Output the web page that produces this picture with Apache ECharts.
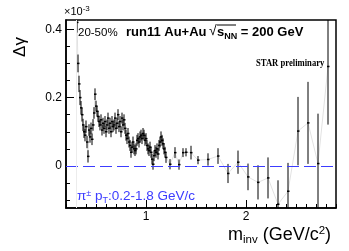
<!DOCTYPE html>
<html><head><meta charset="utf-8">
<script src="https://cdn.jsdelivr.net/npm/echarts@6/dist/echarts.min.js"></script>
<style>html,body{margin:0;padding:0;background:#fff}#c{width:349px;height:251px}</style>
</head><body><div id="c"></div>
<script>
// x positions (GeV/c^2)
const massX = [
 0.31,0.32,0.33,0.34,0.35,0.36,0.37,0.38,0.39,0.40,
 0.41,0.42,0.43,0.44,0.45,0.46,0.47,0.48,0.49,0.50,
 0.51,0.52,0.53,0.54,0.55,0.56,0.57,0.58,0.59,0.60,
 0.61,0.62,0.63,0.64,0.65,0.66,0.67,0.68,0.69,0.70,
 0.71,0.72,0.73,0.74,0.75,0.76,0.77,0.78,0.79,0.80,
 0.81,0.82,0.83,0.84,0.85,0.86,0.87,0.88,0.89,0.90,
 0.91,0.92,0.93,0.94,0.95,0.96,0.97,0.98,0.99,1.00,
 1.01,1.02,1.03,1.04,1.05,1.06,1.07,1.08,1.09,1.10,
 1.11,1.12,1.13,1.14,1.15,1.16,1.17,1.18,1.19,1.20,
 1.24,1.29,1.33,1.37,1.40,1.45,
 1.52,1.62,1.72,1.82,1.92,2.02,2.12,2.22,2.32,2.42,2.52,2.62,2.72,2.82
];
// delta gamma (x 10^-3)
const deltaGamma = [
 0.42,0.30,0.24,0.20,0.17,0.15,0.12,0.10,0.09,0.115,
 0.07,0.028,0.105,0.085,0.11,0.078,0.12,0.155,0.21,0.175,
 0.16,0.145,0.13,0.12,0.135,0.105,0.125,0.11,0.13,0.10,
 0.12,0.14,0.11,0.125,0.10,0.13,0.115,0.12,0.14,0.11,
 0.125,0.15,0.115,0.13,0.10,0.14,0.12,0.135,0.11,0.09,
 0.08,0.095,0.07,0.06,0.04,0.055,0.07,0.05,0.045,0.05,
 0.075,0.08,0.07,0.085,0.09,0.08,0.095,0.09,0.075,0.08,
 0.06,0.05,0.045,0.055,0.04,0.02,0.005,0.03,0.045,0.04,
 0.05,0.035,0.06,0.07,0.085,0.075,0.065,0.05,0.04,0.025,
 0.005,0.039,0.004,0.039,0.040,0.039,
 0.017,0.019,0.029,-0.022,0.011,-0.032,-0.048,-0.035,-0.112,-0.074,0.102,0.126,0.007,0.291
];
// statistical errors
const deltaGammaErr = [
 0.03,0.026,0.024,0.022,0.02,0.02,0.018,0.018,0.018,0.018,
 0.018,0.018,0.017,0.017,0.017,0.017,0.017,0.017,0.017,0.016,
 0.016,0.016,0.016,0.016,0.016,0.016,0.016,0.016,0.016,0.016,
 0.016,0.016,0.016,0.016,0.016,0.016,0.016,0.016,0.016,0.016,
 0.016,0.016,0.016,0.016,0.016,0.016,0.016,0.016,0.016,0.016,
 0.016,0.016,0.016,0.016,0.016,0.016,0.016,0.016,0.016,0.016,
 0.016,0.016,0.016,0.016,0.016,0.016,0.016,0.016,0.016,0.016,
 0.016,0.016,0.016,0.016,0.016,0.016,0.016,0.016,0.016,0.016,
 0.016,0.016,0.016,0.016,0.016,0.016,0.016,0.016,0.016,0.016,
 0.015,0.016,0.015,0.013,0.012,0.02,
 0.012,0.018,0.023,0.028,0.034,0.039,0.05,0.06,0.07,0.083,0.1,0.12,0.146,0.17
];
const yTickValues = [0, 0.2, 0.4];
const yTickLabels = ['0', '0.2', '0.4'];
const xTickValues = [1, 2];
const xTickLabels = ['1', '2'];

const X_MIN = 0.2, X_MAX = 2.9, Y_MIN = -0.123, Y_MAX = 0.427;
const yMinor = []; for (let i = -2; i <= 8; i++) yMinor.push(+(i * 0.05).toFixed(2));
const xMinor = []; for (let i = 2; i <= 29; i++) xMinor.push(+(i * 0.1).toFixed(1));

const pts = massX.map((x, i) => [x, deltaGamma[i], deltaGammaErr[i]]);
const BLUE = '#3c3cff';
const FONT = '"Liberation Sans", Arial, Helvetica, sans-serif';

const chart = echarts.init(document.getElementById('c'), null, {renderer: 'canvas'});
const grid = {left: 66, right: 13, top: 20, bottom: 43, show: true, borderColor: '#000', borderWidth: 1.5, backgroundColor: 'transparent'};
chart.setOption({
  animation: false,
  grid: grid,
  xAxis: [{
    type: 'value', min: X_MIN, max: X_MAX, position: 'bottom',
    axisLine: {show: true, onZero: false, lineStyle: {color: '#000', width: 1.5}},
    axisTick: {show: true, inside: true, length: 8, customValues: xTickValues, lineStyle: {color: '#000'}},
    axisLabel: {show: true, customValues: xTickValues, formatter: v => xTickLabels[xTickValues.indexOf(v)] ?? '', color: '#000', fontSize: 12, fontFamily: FONT, margin: 3},
    splitLine: {show: false}
  }, {
    type: 'value', min: X_MIN, max: X_MAX, position: 'bottom',
    axisLine: {show: false, onZero: false},
    axisTick: {show: true, inside: true, length: 4, customValues: xMinor, lineStyle: {color: '#000'}},
    axisLabel: {show: false}, splitLine: {show: false}
  }],
  yAxis: [{
    type: 'value', min: Y_MIN, max: Y_MAX, position: 'left',
    axisLine: {show: true, onZero: false, lineStyle: {color: '#000', width: 1.5}},
    axisTick: {show: true, inside: true, length: 8, customValues: yTickValues, lineStyle: {color: '#000'}},
    axisLabel: {show: true, customValues: yTickValues, formatter: v => yTickLabels[yTickValues.indexOf(v)] ?? '', color: '#000', fontSize: 12, fontFamily: FONT, margin: 4},
    splitLine: {show: false}
  }, {
    type: 'value', min: Y_MIN, max: Y_MAX, position: 'left',
    axisLine: {show: false, onZero: false},
    axisTick: {show: true, inside: true, length: 4, customValues: yMinor, lineStyle: {color: '#000'}},
    axisLabel: {show: false}, splitLine: {show: false}
  }],
  series: [{
    type: 'line', data: pts.map(p => [p[0], p[1]]), symbol: 'none',
    lineStyle: {color: '#e2e2e2', width: 1}, z: 1, silent: true, clip: true,
    markLine: {
      silent: true, symbol: 'none', label: {show: false},
      lineStyle: {color: BLUE, type: [12, 5], width: 1},
      data: [{yAxis: 0}]
    }
  }, {
    type: 'line', data: [], symbol: 'none', silent: true, z: 0,
    markLine: {
      silent: true, symbol: 'none', label: {show: false},
      lineStyle: {color: '#ececec', type: 'solid', width: 1},
      data: [{xAxis: 0.298}]
    }
  }, {
    type: 'custom', data: pts, z: 3, clip: true,
    renderItem: function (params, api) {
      const x = api.value(0), y = api.value(1), e = api.value(2);
      const hi = Math.min(y + e, Y_MAX), lo = Math.max(y - e, Y_MIN);
      const p1 = api.coord([x, hi]), p2 = api.coord([x, lo]), p = api.coord([x, Math.max(Math.min(y, Y_MAX), Y_MIN)]);
      return {type: 'group', children: [
        {type: 'line', shape: {x1: p1[0], y1: p1[1], x2: p2[0], y2: p2[1]}, style: {stroke: '#000', lineWidth: 1}},
        {type: 'rect', shape: {x: p[0] - 1, y: p[1] - 0.75, width: 2.5, height: 1.5}, style: {fill: '#000'}}
      ]};
    }
  }],
  graphic: [
    {type: 'text', left: 64, top: 5, style: {text: '×10{s|-3}', rich: {s: {fontSize: 8, verticalAlign: 'top', padding: [0,0,6,0]}}, fontSize: 11, fontFamily: FONT, fill: '#000'}},
    {type: 'text', x: 20, y: 47, rotation: Math.PI / 2, style: {text: 'Δγ', fontSize: 17, fontFamily: FONT, fill: '#000', align: 'center', verticalAlign: 'middle'}},
    {type: 'text', left: 78, top: 27, style: {text: '20-50%', fontSize: 11.5, fontFamily: FONT, fill: '#000'}},
    {type: 'text', left: 126, top: 26, style: {text: 'run11 Au+Au', fontSize: 13, fontWeight: 'bold', fontFamily: FONT, fill: '#000'}},
    {type: 'text', left: 209, top: 24, style: {text: '√', fontSize: 14, fontFamily: FONT, fill: '#000'}},
    {type: 'line', shape: {x1: 217, y1: 25, x2: 236, y2: 25}, style: {stroke: '#000', lineWidth: 1}},
    {type: 'text', left: 217, top: 26, style: {text: 's{sub|NN} = 200 GeV', rich: {sub: {fontSize: 9, fontWeight: 'bold', fontFamily: FONT, padding: [8, 0, 0, 0]}}, fontSize: 13, fontWeight: 'bold', fontFamily: FONT, fill: '#000'}},
    {type: 'text', x: 256, y: 58, scaleX: 0.82, style: {text: 'STAR preliminary', fontSize: 10.5, fontWeight: 'bold', fontFamily: '"Liberation Serif", "Times New Roman", serif', fill: '#000'}},
    {type: 'text', left: 77, top: 189, style: {text: 'π{sup|±} p{sub|T}:0.2-1.8 GeV/c', rich: {sup: {fontSize: 9, padding: [0,0,6,0], fill: BLUE, fontFamily: FONT}, sub: {fontSize: 9, padding: [8,0,0,0], fill: BLUE, fontFamily: FONT}}, fontSize: 13.5, fontFamily: FONT, fill: BLUE}},
    {type: 'text', left: 228, top: 225, style: {text: 'm{sub|inv} (GeV/c{sup|2})', rich: {sub: {fontSize: 11.5, padding: [9,0,0,0], fontFamily: FONT}, sup: {fontSize: 11.5, padding: [0,0,8,0], fontFamily: FONT}}, fontSize: 18, fontFamily: FONT, fill: '#000'}}
  ]
});
</script></body></html>
